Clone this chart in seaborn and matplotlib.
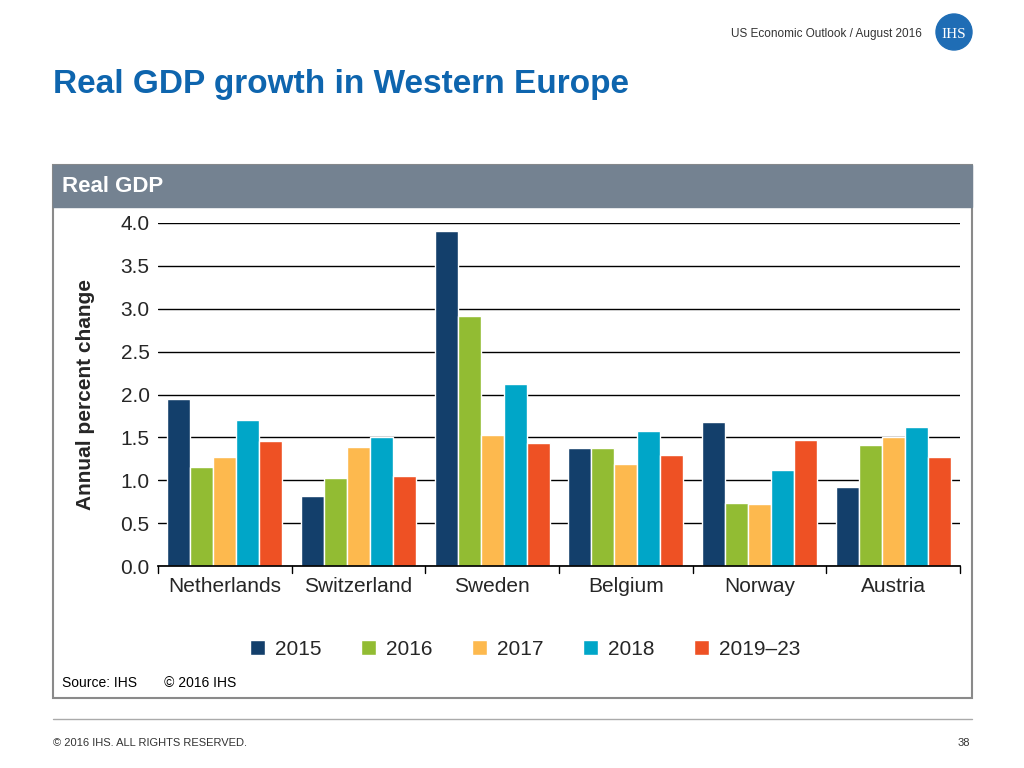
import matplotlib
matplotlib.use("Agg")
import matplotlib.pyplot as plt
import seaborn as sns
import pandas as pd
from matplotlib.patches import Rectangle, Ellipse

countries = ["Netherlands", "Switzerland", "Sweden", "Belgium", "Norway", "Austria"]
series = ["2015", "2016", "2017", "2018", "2019–23"]
v2015 = [1.95, 0.82, 3.91, 1.38, 1.68, 0.92]
v2016 = [1.15, 1.03, 2.92, 1.38, 0.73, 1.41]
v2017 = [1.27, 1.39, 1.53, 1.19, 0.72, 1.50]
v2018 = [1.70, 1.50, 2.12, 1.57, 1.12, 1.62]
v2019 = [1.46, 1.05, 1.43, 1.30, 1.47, 1.27]
colors = ["#133F6B", "#92BC33", "#FDB94E", "#00A6C8", "#EE5124"]

rows = []
for s, vals in zip(series, [v2015, v2016, v2017, v2018, v2019]):
    for c, v in zip(countries, vals):
        rows.append({"country": c, "series": s, "value": v})
df = pd.DataFrame(rows)

sns.set_theme(style="white")
plt.rcParams['font.family'] = ['Liberation Sans', 'DejaVu Sans']
W, H = 1024, 768
fig = plt.figure(figsize=(10.24, 7.68), dpi=100)

# header
fig.text(922/W, 1-34/H, "US Economic Outlook / August 2016", ha="right", va="center", fontsize=8.5, color="#333333")
fig.patches.append(Ellipse((954/W, 1-32/H), 36/W, 36/H, transform=fig.transFigure, color="#1F6DB5", figure=fig))
fig.text(954/W, 1-34/H, "IHS", ha="center", va="center", fontsize=11, color="white", family="Liberation Serif")
fig.text(53/W, 1-84/H, "Real GDP growth in Western Europe", ha="left", va="center", fontsize=24, fontweight="bold", color="#0E65AE")

# panel
fig.patches.append(Rectangle((53/W, 1-698/H), (972-53)/W, (698-165)/H, transform=fig.transFigure, fill=False, edgecolor="#8A8A8A", lw=1.5, figure=fig))
fig.patches.append(Rectangle((53/W, 1-207/H), (972-53)/W, 42/H, transform=fig.transFigure, color="#748291", figure=fig))
fig.text(62/W, 1-187/H, "Real GDP", ha="left", va="center", fontsize=16, fontweight="bold", color="white")
fig.text(62/W, 1-683/H, "Source: IHS       © 2016 IHS", ha="left", va="center", fontsize=10, color="black")

# footer
fig.add_artist(plt.Line2D([53/W, 972/W], [1-719/H, 1-719/H], color="#AAAAAA", lw=1))
fig.text(53/W, 1-743/H, "© 2016 IHS. ALL RIGHTS RESERVED.", ha="left", va="center", fontsize=8, color="#333333")
fig.text(970/W, 1-743/H, "38", ha="right", va="center", fontsize=8, color="#333333")

ax = fig.add_axes([158/W, 1-566/H, (960-158)/W, (566-223)/H])
sns.barplot(data=df, x="country", y="value", hue="series", palette=colors, ax=ax, width=0.86, saturation=1, legend=True)
ax.set_ylim(0, 4.0)
ax.set_xlim(-0.5, 5.5)
ax.set_yticks([i*0.5 for i in range(9)])
ax.set_yticklabels([f"{i*0.5:.1f}" for i in range(9)], fontsize=15)
ax.yaxis.grid(True, color="black", lw=1)
ax.set_axisbelow(True)
for s in ["top", "right", "left"]:
    ax.spines[s].set_visible(False)
ax.spines["bottom"].set_color("black")
ax.set_xlabel("")
ax.set_ylabel("Annual percent change", fontsize=15, fontweight="bold", labelpad=18)
ax.tick_params(axis="x", length=0, labelsize=15, pad=8)
ax.tick_params(axis="y", length=0, pad=6)
for xb in [x + 0.5 for x in range(-1, 6)]:
    ax.plot([xb, xb], [0, -0.08], color="black", lw=1, clip_on=False)
ax.legend(loc="upper center", bbox_to_anchor=(0.458, -0.16), ncol=5, frameon=False, fontsize=15,
          handlelength=0.7, handleheight=0.7, columnspacing=1.9, handletextpad=0.5)
fig.savefig("out.png", dpi=100)
